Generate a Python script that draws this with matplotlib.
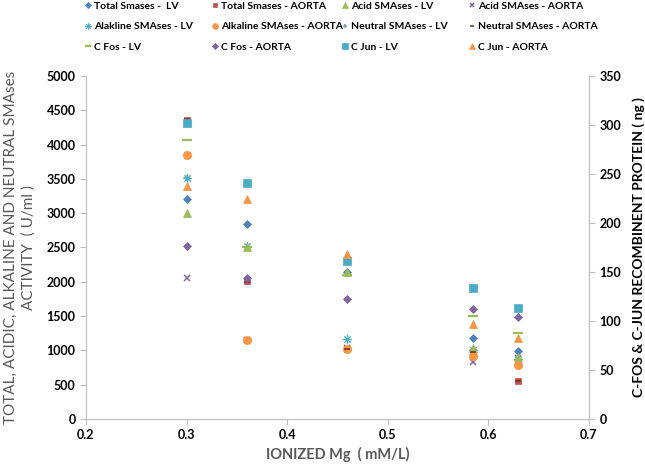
import matplotlib.pyplot as plt

plt.rcParams['font.family'] = ['Lato', 'DejaVu Sans']

# ionized Mg (mM/L)
x_mg = [0.3, 0.36, 0.46, 0.585, 0.63]

# SMAses activity (U/ml), left axis
total_lv = [3200, 2840, 2150, 1185, 990]
total_aorta = [4360, 2010, 1020, 980, 555]
acid_lv = [3000, 2510, 2140, 1030, 900]
acid_aorta = [2050, 1150, 1030, 835, 890]
alk_lv = [3520, 2515, 1165, 1000, 880]
alk_aorta = [3845, 1150, 1020, 920, 785]
neutral_lv = [3510, 2510, 2140, 1010, 890]
neutral_aorta = [4370, 2000, 1020, 975, 555]

# recombinant protein (ng), right axis
cfos_lv = [285, 176, 147, 105, 88]
cfos_aorta = [177, 144, 122, 112, 104]
cjun_lv = [302, 241, 161, 134, 113]
cjun_aorta = [238, 224, 168, 97, 83]

# label, values, marker, colour, size, zorder
left_series = [
    ("Total Smases -  LV", total_lv, 'D', '#4F81BD', 4.5, 3),
    ("Total Smases - AORTA", total_aorta, 's', '#C0504D', 5, 3),
    ("Acid SMAses - LV", acid_lv, '^', '#9BBB59', 6, 3),
    ("Acid SMAses - AORTA", acid_aorta, 'x', '#8064A2', 5, 2),
    ("Alakline SMAses - LV", alk_lv, '$\u2733$', '#4BACC6', 6, 2.5),
    ("Alkaline SMAses - AORTA", alk_aorta, 'o', '#F79646', 6, 3),
    ("Neutral SMAses - LV", neutral_lv, '+', '#7F9FBF', 5, 1),
    ("Neutral SMAses - AORTA", neutral_aorta, '_', '#772C2A', 4, 3.5),
]
right_series = [
    ("C Fos - LV", cfos_lv, '_', '#9BBB59', 7),
    ("C Fos - AORTA", cfos_aorta, 'D', '#8064A2', 4.5),
    ("C Jun - LV", cjun_lv, 's', '#4BACC6', 5.5),
    ("C Jun - AORTA", cjun_aorta, '^', '#F79646', 6),
]

fig = plt.figure(figsize=(6.45, 4.65), dpi=100)
ax = fig.add_axes([0.1333, 0.0989, 0.7797, 0.7377])
ax2 = ax.twinx()

handles = []
for label, vals, m, c, s, z in left_series:
    h, = ax.plot(x_mg, vals, linestyle='none', marker=m, color=c, zorder=z,
                 markersize=s, markeredgewidth=1.1 if m in 'x+_' else 0.5, label=label)
    handles.append(h)
for label, vals, m, c, s in right_series:
    h, = ax2.plot(x_mg, vals, linestyle='none', marker=m, color=c,
                  markersize=s, markeredgewidth=1.6 if m == '_' else 0.5, label=label)
    handles.append(h)

ax.set_xlim(0.2, 0.7)
ax.set_ylim(0, 5000)
ax2.set_ylim(0, 350)
ax.set_xticks([0.2, 0.3, 0.4, 0.5, 0.6, 0.7])
ax.set_yticks(range(0, 5001, 500))
ax2.set_yticks(range(0, 351, 50))

gray = '#BFBFBF'
for a in (ax, ax2):
    a.spines['top'].set_visible(False)
    for sp in ('left', 'right', 'bottom'):
        a.spines[sp].set_color(gray)
    a.tick_params(colors=gray, labelcolor='black', length=4, width=0.8)
    for t in a.get_yticklabels() + a.get_xticklabels():
        t.set_fontweight('bold')
        t.set_fontsize(9)
ax2.spines['left'].set_visible(False)

ax.set_xlabel("IONIZED Mg  ( mM/L)", fontsize=10.5, fontweight='bold',
              color='#595959', labelpad=4)
ax.set_ylabel("TOTAL, ACIDIC, ALKALINE AND NEUTRAL SMAses\nACTIVITY  ( U/ml )",
              fontsize=11, color='#595959', labelpad=8, linespacing=1.25)
ax2.set_ylabel("C-FOS & C-JUN RECOMBINENT PROTEIN ( ng )", fontsize=10,
               fontweight='bold', color='black', labelpad=8)

# legend: 4 columns x 3 rows, row-major order
col_x = [0.125, 0.322, 0.523, 0.72]
for c in range(4):
    hs = handles[c::4]
    leg = fig.legend(hs, [h.get_label() for h in hs], loc='upper left',
                     bbox_to_anchor=(col_x[c], 1.005), frameon=False,
                     fontsize=7.5, markerscale=0.7, handlelength=0.6,
                     handletextpad=0.3, labelspacing=1.05, borderaxespad=0)
    for t in leg.get_texts():
        t.set_fontweight('bold')

fig.savefig('out.png', dpi=100)
